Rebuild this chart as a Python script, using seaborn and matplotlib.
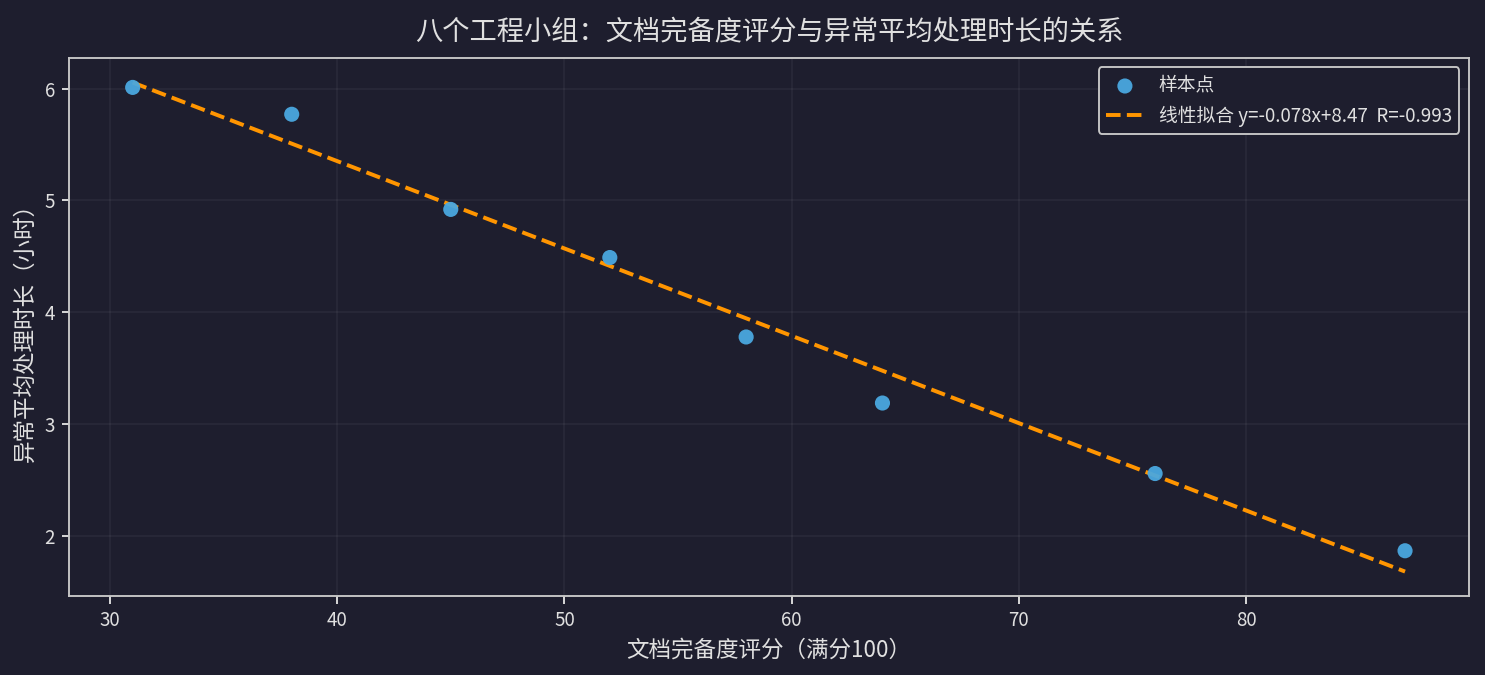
import numpy as np
import pandas as pd
import matplotlib
matplotlib.use("Agg")
import matplotlib.pyplot as plt
import seaborn as sns

doc_score = [31, 38, 45, 52, 58, 64, 76, 87]
handle_hours = [6.01, 5.77, 4.92, 4.49, 3.78, 3.19, 2.56, 1.87]

bg = "#1e1e2e"
fg = "#e0e0e0"
sns.set_theme(style="dark")
plt.rcParams["font.family"] = ["Noto Sans CJK SC", "DejaVu Sans"]
plt.rcParams["axes.unicode_minus"] = False

df = pd.DataFrame({"x": doc_score, "y": handle_hours})
k, b = np.polyfit(df["x"], df["y"], 1)
r = np.corrcoef(df["x"], df["y"])[0, 1]
xs = np.array([min(doc_score), max(doc_score)])
fit = pd.DataFrame({"x": xs, "y": k * xs + b})

fig, ax = plt.subplots(figsize=(11, 5), dpi=135)
fig.patch.set_facecolor(bg)
ax.set_facecolor(bg)

sns.scatterplot(data=df, x="x", y="y", ax=ax, color="#4aa8e0", s=65,
                edgecolor="none", alpha=0.95, label="样本点", zorder=3)
sns.lineplot(data=fit, x="x", y="y", ax=ax, color="#ff9500", lw=2.1,
             linestyle="--", label=f"线性拟合 y={k:.3f}x+{b:.2f}  R={r:.3f}", zorder=2)

ax.grid(True, color="#ffffff", alpha=0.06, lw=0.8)
for s in ax.spines.values():
    s.set_color("#c8c8c8")
    s.set_linewidth(1.0)
ax.tick_params(colors=fg, labelsize=10, length=4, width=1, bottom=True, left=True)
ax.set_xlabel("文档完备度评分（满分100）", color=fg, fontsize=12)
ax.set_ylabel("异常平均处理时长（小时）", color=fg, fontsize=12)
ax.set_title("八个工程小组：文档完备度评分与异常平均处理时长的关系", color=fg, fontsize=14.5, pad=10)

leg = ax.legend(loc="upper right", fontsize=10, facecolor=bg, edgecolor="#c8c8c8",
                labelcolor=fg, framealpha=1)

fig.subplots_adjust(left=0.0465, right=0.989, top=0.914, bottom=0.117)
fig.savefig("out.png", dpi=135, facecolor=bg)
